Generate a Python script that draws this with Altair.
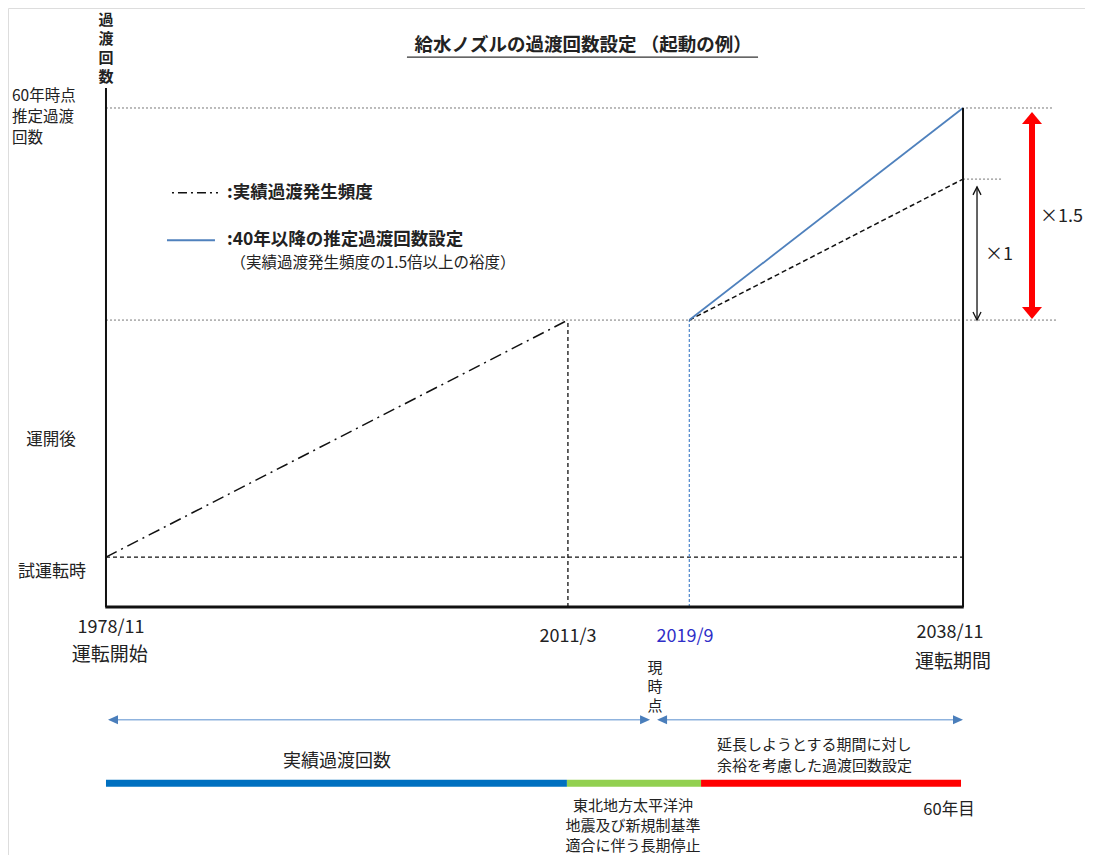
import altair as alt
import pandas as pd

FONT = "Noto Sans CJK JP, Noto Sans, sans-serif"

# ---- key time points (decimal year) ----
t_start = 1978.83   # 1978/11 運転開始
t_2011 = 2011.17    # 2011/3
t_2019 = 2019.67    # 2019/9
t_end = 2038.83     # 2038/11 (60年目)

# ---- transient counts (schematic units) ----
n_trial = 10.0      # 試運転時
n_2011 = 57.5       # 現時点までの実績
n_proj1 = 85.75     # 実績頻度 ×1 で外挿
n_proj15 = 100.0    # ×1.5 の裕度

# ---- bottom timeline segments ----
bar_starts = [t_start, 2011.10, 2020.49]
bar_ends = [2011.10, 2020.49, 2038.69]
bar_colors = ["#0070c0", "#92d050", "#ff0000"]

# ---- stacked labels (one entry per line) ----
ytitle_chars = ["過", "渡", "回", "数"]
ytitle_levels = [117.6, 113.8, 110.0, 106.2]
top_label_lines = ["60年時点", "推定過渡", "回数"]
top_label_levels = [102.4, 98.2, 94.0]
now_chars = ["現", "時", "点"]
now_levels = [-12.2, -16.0, -19.8]
stop_lines = ["東北地方太平洋沖", "地震及び新規制基準", "適合に伴う長期停止"]
stop_levels = [-39.9, -43.9, -47.9]

W, H = 1077, 847
x_dom = [1971.97, 2047.37]
y_dom = [(607 - (8 + H)) / 4.99, 120.04]


def X(f):
    return alt.X(f, type="quantitative", scale=alt.Scale(domain=x_dom, nice=False, zero=False), axis=None)


def Y(f):
    return alt.Y(f, type="quantitative", scale=alt.Scale(domain=y_dom, nice=False, zero=False), axis=None)


def rules(rows, **kw):
    df = pd.DataFrame(rows, columns=["x", "y", "x2", "y2"])
    return alt.Chart(df).mark_rule(**kw).encode(x=X("x"), y=Y("y"), x2="x2", y2="y2")


def texts(rows, **kw):
    df = pd.DataFrame(rows, columns=["x", "y", "text"])
    base = dict(font=FONT, fontSize=16, color="#222")
    base.update(kw)
    return alt.Chart(df).mark_text(**base).encode(x=X("x"), y=Y("y"), text="text:N")


def heads(rows, shape, size, **kw):
    df = pd.DataFrame(rows, columns=["x", "y"])
    return alt.Chart(df).mark_point(shape=shape, size=size, opacity=1, **kw).encode(x=X("x"), y=Y("y"))


layers = []

# dotted grey reference lines
layers.append(rules([
    [t_start, n_proj15, 2045.06, n_proj15],
    [t_end, n_proj1, 2041.56, n_proj1],
    [t_start, n_2011, 2045.41, n_2011],
], color="#777777", strokeWidth=1, strokeDash=[2, 2]))

# trial-operation dashed level
layers.append(rules([[t_start, n_trial, t_end, n_trial]], color="#111", strokeWidth=1.3, strokeDash=[4, 3]))
# vertical dashed at 2011/3
layers.append(rules([[t_2011, 0, t_2011, n_2011]], color="#111", strokeWidth=1.3, strokeDash=[4, 3]))
# vertical dashed blue at 2019/9
layers.append(rules([[t_2019, 0, t_2019, n_2011]], color="#5b8fcf", strokeWidth=1.3, strokeDash=[3, 2]))
# actual frequency dash-dot
layers.append(rules([[t_start, n_trial, t_2011, n_2011]], color="#111", strokeWidth=1.5, strokeDash=[12, 5, 2, 5]))
# extrapolated x1 dashed
layers.append(rules([[t_2019, n_2011, t_end, n_proj1]], color="#111", strokeWidth=1.5, strokeDash=[5, 3]))
# 40年以降 blue solid
layers.append(rules([[t_2019, n_2011, t_end, n_proj15]], color="#4f81bd", strokeWidth=1.8))

# axes frame
layers.append(rules([[t_start, 0, t_start, 104.0], [t_end, 0, t_end, n_proj15]], color="#111", strokeWidth=2))
layers.append(rules([[t_start - 0.05, 0, t_end + 0.05, 0]], color="#111", strokeWidth=3))

# legend samples
layers.append(rules([[1983.45, 83.0, 1986.67, 83.0]], color="#111", strokeWidth=1.5, strokeDash=[2, 4, 9, 4]))
layers.append(rules([[1983.10, 73.5, 1986.46, 73.5]], color="#4f81bd", strokeWidth=2))
layers.append(texts([[1987.30, 83.0, ":実績過渡発生頻度"], [1987.30, 73.5, ":40年以降の推定過渡回数設定"]],
                    align="left", baseline="middle", fontWeight="bold", fontSize=17.5))
layers.append(texts([[1987.55, 68.9, "（実績過渡発生頻度の1.5倍以上の裕度）"]],
                    align="left", baseline="middle", fontSize=15.5))

# x1 arrow (black, open heads)
layers.append(rules([[2039.81, n_2011, 2039.81, 84.2]], color="#111", strokeWidth=1.3))
layers.append(heads([[2039.81, 84.2]], "M-0.5,1 L0,0 L0.5,1", 256, filled=False, color="#111", strokeWidth=1.3))
layers.append(heads([[2039.81, n_2011]], "M-0.5,-1 L0,0 L0.5,-1", 256, filled=False, color="#111", strokeWidth=1.3))
layers.append(texts([[2040.37, 70.5, "×1"]], align="left", baseline="middle", fontSize=18))

# x1.5 arrow (red, thick)
layers.append(rules([[2043.66, 59.5, 2043.66, 97.2]], color="#ff0000", strokeWidth=6))
layers.append(heads([[2043.66, 99.2]], "M0,0 L1,1.2 L-1,1.2 Z", 400, filled=True, color="#ff0000", strokeWidth=0))
layers.append(heads([[2043.66, 57.7]], "M0,0 L1,-1.2 L-1,-1.2 Z", 400, filled=True, color="#ff0000", strokeWidth=0))
layers.append(texts([[2044.22, 78.2, "×1.5"]], align="left", baseline="middle", fontSize=18))

# title + underline
layers.append(texts([[2012.23, 112.6, "給水ノズルの過渡回数設定 （起動の例）"]],
                    align="center", baseline="middle", fontWeight="bold", fontSize=18.5))
layers.append(rules([[1999.90, 110.2, 2024.48, 110.2]], color="#333", strokeWidth=1.2))

# y axis title (stacked characters) and left labels
layers.append(texts([[t_start, lv, ch] for ch, lv in zip(ytitle_chars, ytitle_levels)],
                    align="center", baseline="middle", fontSize=15, fontWeight="bold"))
layers.append(texts([[1972.25, lv, s] for s, lv in zip(top_label_lines, top_label_levels)],
                    align="left", baseline="middle", fontSize=15.5))
layers.append(texts([[1974.98, 33.5, "運開後"]], align="center", baseline="middle", fontSize=16.5))
layers.append(texts([[1975.05, 7.0, "試運転時"]], align="center", baseline="middle", fontSize=17))

# x labels
layers.append(texts([[1979.18, -4.2, "1978/11"], [2011.18, -6.0, "2011/3"], [2037.92, -5.2, "2038/11"]],
                    align="center", baseline="middle", fontSize=18))
layers.append(texts([[2019.37, -6.0, "2019/9"]], align="center", baseline="middle", fontSize=18, color="#2f2fc8"))
layers.append(texts([[1979.1, -9.6, "運転開始"], [2038.13, -11.0, "運転期間"]],
                    align="center", baseline="middle", fontSize=19))
layers.append(texts([[2017.27, lv, ch] for ch, lv in zip(now_chars, now_levels)],
                    align="center", baseline="middle", fontSize=15))

# timeline arrows
layers.append(rules([[1979.2, -22.6, 2016.7, -22.6], [2017.6, -22.6, 2038.6, -22.6]], color="#8fb3de", strokeWidth=1.5))
layers.append(heads([[1978.97, -22.6], [2017.41, -22.6]], "M0,0 L1,-0.45 L1,0.45 Z", 400, filled=True, color="#4a7ebb", strokeWidth=0))
layers.append(heads([[2016.92, -22.6], [2038.83, -22.6]], "M0,0 L-1,-0.45 L-1,0.45 Z", 400, filled=True, color="#4a7ebb", strokeWidth=0))

# coloured period bar
bar_df = pd.DataFrame({"x": bar_starts, "x2": bar_ends, "y": [-35.3] * 3, "c": bar_colors})
layers.append(alt.Chart(bar_df).mark_rule(strokeWidth=7, strokeCap="butt").encode(
    x=X("x"), x2="x2", y=Y("y"), color=alt.Color("c:N", scale=None)))

# bottom texts
layers.append(texts([[1995.00, -31.1, "実績過渡回数"]], align="center", baseline="middle", fontSize=18))
layers.append(texts([[2021.61, -26.2, "延長しようとする期間に対し\n余裕を考慮した過渡回数設定"]], align="left",
                    baseline="top", lineBreak="\n", lineHeight=21, fontSize=15))
layers.append(texts([[2015.73, lv, s] for s, lv in zip(stop_lines, stop_levels)],
                    align="center", baseline="middle", fontSize=15))
layers.append(texts([[2037.85, -40.7, "60年目"]], align="center", baseline="middle", fontSize=16.5))

chart = alt.layer(*layers).properties(
    width=W, height=H, padding=0, autosize=alt.AutoSizeParams(type="none")
).configure_view(strokeWidth=0, stroke="transparent").configure(background="white")

chart.save("out.html", embed_options={"renderer": "svg", "actions": False})
